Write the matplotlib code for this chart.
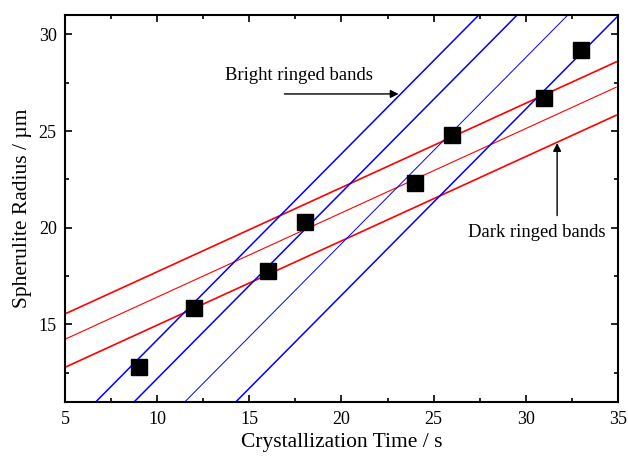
import matplotlib
matplotlib.use("Agg")
import matplotlib.pyplot as plt
from matplotlib.ticker import MultipleLocator
import numpy as np

plt.rcParams['font.family'] = ['Liberation Serif', 'DejaVu Serif']

# measured spherulite radii
time_s = [9, 12, 16, 18, 24, 26, 31, 33]
radius_um = [12.8, 15.85, 17.75, 20.3, 22.3, 24.8, 26.7, 29.2]

# fitted guide lines: y = slope * (x - x_ref) + offset
red_slope = 0.436
red_offsets = [15.54, 14.23, 12.78]      # value at x = 5
red_widths = [1.2, 0.8, 1.2]
blue_slope = 0.963
blue_x0 = [6.68, 8.76, 11.51, 14.28]     # x where line crosses y = 11
blue_widths = [1.1, 1.1, 0.7, 1.1]

fig = plt.figure(figsize=(6.28, 4.57), dpi=100)
ax = fig.add_axes([0.1035, 0.121, 0.8805, 0.846])

xr = np.array([5.0, 34.9])
for off, lw in zip(red_offsets, red_widths):
    ax.plot(xr, red_slope * (xr - 5) + off, color='red', lw=lw)

xb = np.array([0.0, 40.0])
for x0, lw in zip(blue_x0, blue_widths):
    ax.plot(xb, blue_slope * (xb - x0) + 11, color='blue', lw=lw)

ax.plot(time_s, radius_um, 's', color='black', markersize=12, zorder=5)

ax.annotate('', xy=(23.1, 26.92), xytext=(16.9, 26.92),
            arrowprops=dict(arrowstyle='-|>', color='black', lw=1.0,
                            mutation_scale=12, shrinkA=0, shrinkB=0))
ax.text(13.68, 27.85, 'Bright ringed bands', fontsize=13.4, va='center', ha='left')

ax.annotate('', xy=(31.7, 24.38), xytext=(31.7, 20.63),
            arrowprops=dict(arrowstyle='-|>', color='black', lw=1.0,
                            mutation_scale=12, shrinkA=0, shrinkB=0))
ax.text(26.87, 19.76, 'Dark ringed bands', fontsize=13.4, va='center', ha='left')

ax.set_xlim(5, 35)
ax.set_ylim(11, 31)
ax.xaxis.set_major_locator(MultipleLocator(5))
ax.xaxis.set_minor_locator(MultipleLocator(2.5))
ax.yaxis.set_major_locator(MultipleLocator(5))
ax.yaxis.set_minor_locator(MultipleLocator(2.5))
ax.tick_params(which='both', direction='in', top=True, right=True, width=1.2,
               labelsize=13)
ax.tick_params(which='major', length=5)
ax.tick_params(which='minor', length=3)
ax.tick_params(axis='x', which='major', pad=7)
ax.tick_params(axis='y', which='major', pad=6)
for s in ax.spines.values():
    s.set_linewidth(1.5)

ax.set_xlabel('Crystallization Time / s', fontsize=15.5, labelpad=3)
ax.set_ylabel('Spherulite Radius / µm', fontsize=15.5, labelpad=5)

fig.savefig('out.png', dpi=100)
